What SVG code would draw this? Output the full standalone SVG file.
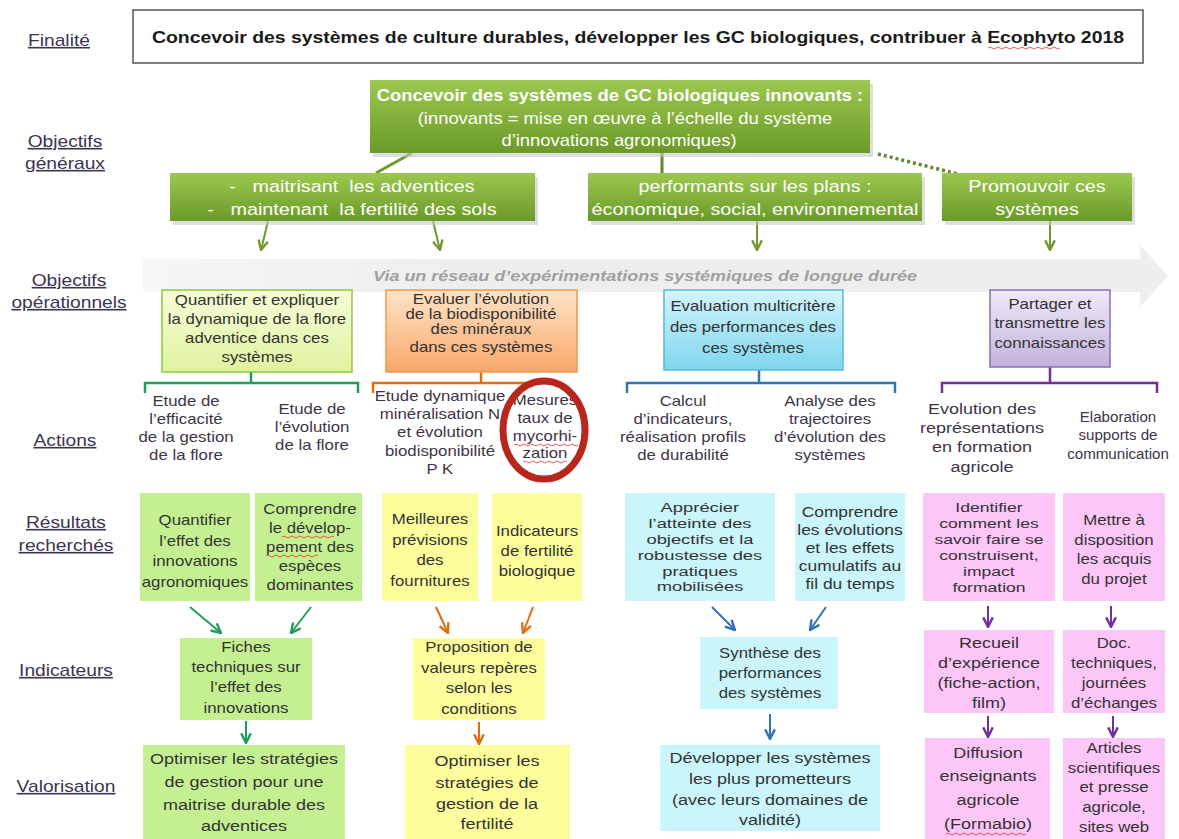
<svg xmlns="http://www.w3.org/2000/svg" width="1179" height="839" viewBox="0 0 1179 839">
<defs>
<style>
text{font-family:"Liberation Sans",Arial,sans-serif;text-anchor:middle;transform-box:fill-box;transform-origin:center;transform:scaleX(1.2);}
.n{transform:none;}
.s108{transform:scaleX(1.08);}
.s115{transform:scaleX(1.15);}
.s135{transform:scaleX(1.36);}
.s132{transform:scaleX(1.3);}
.lbl{font-size:16px;fill:#3b3450;text-decoration:underline;}
.w{fill:#ffffff;font-size:16px;}
.d{fill:#333333;font-size:14px;}
.a{fill:#3e3448;font-size:14px;}
.r{fill:#333333;font-size:14px;}
.sh{fill:#c8c8c8;opacity:0.6;}
.wv{fill:none;stroke:#e03030;stroke-width:0.8;}
</style>
<linearGradient id="gG" x1="0" y1="0" x2="0" y2="1"><stop offset="0" stop-color="#9cc84f"/><stop offset="1" stop-color="#6b9a28"/></linearGradient>
<linearGradient id="gO1" x1="0" y1="0" x2="0" y2="1"><stop offset="0" stop-color="#f6fcd6"/><stop offset="1" stop-color="#dff3a0"/></linearGradient>
<linearGradient id="gO2" x1="0" y1="0" x2="0" y2="1"><stop offset="0" stop-color="#fde4c8"/><stop offset="1" stop-color="#f9a66a"/></linearGradient>
<linearGradient id="gO3" x1="0" y1="0" x2="0" y2="1"><stop offset="0" stop-color="#d4f4fc"/><stop offset="1" stop-color="#7ed6ee"/></linearGradient>
<linearGradient id="gO4" x1="0" y1="0" x2="0" y2="1"><stop offset="0" stop-color="#efe9f7"/><stop offset="1" stop-color="#c2b2de"/></linearGradient>
<linearGradient id="gBand" x1="0" y1="0" x2="1" y2="0"><stop offset="0" stop-color="#f6f6f6"/><stop offset="0.3" stop-color="#eeeeee"/><stop offset="1" stop-color="#eeeeee"/></linearGradient>
<marker id="mDG" viewBox="0 0 10 10" refX="9" refY="5" markerWidth="12" markerHeight="12" orient="auto" markerUnits="userSpaceOnUse"><path d="M1,1 L9,5 L1,9" fill="none" stroke="#6f9a2e" stroke-width="2"/></marker>
<marker id="mG" viewBox="0 0 10 10" refX="9" refY="5" markerWidth="12" markerHeight="12" orient="auto" markerUnits="userSpaceOnUse"><path d="M1,1 L9,5 L1,9" fill="none" stroke="#1f9e5a" stroke-width="2"/></marker>
<marker id="mO" viewBox="0 0 10 10" refX="9" refY="5" markerWidth="12" markerHeight="12" orient="auto" markerUnits="userSpaceOnUse"><path d="M1,1 L9,5 L1,9" fill="none" stroke="#e46c0a" stroke-width="2"/></marker>
<marker id="mB" viewBox="0 0 10 10" refX="9" refY="5" markerWidth="12" markerHeight="12" orient="auto" markerUnits="userSpaceOnUse"><path d="M1,1 L9,5 L1,9" fill="none" stroke="#2e75b6" stroke-width="2"/></marker>
<marker id="mP" viewBox="0 0 10 10" refX="9" refY="5" markerWidth="12" markerHeight="12" orient="auto" markerUnits="userSpaceOnUse"><path d="M1,1 L9,5 L1,9" fill="none" stroke="#7030a0" stroke-width="2"/></marker>
</defs>
<rect width="1179" height="839" fill="#ffffff"/>

<g id="labels">
<text class="lbl" x="59" y="46">Finalité</text>
<text class="lbl" x="65" y="147">Objectifs</text>
<text class="lbl" x="65" y="169">généraux</text>
<text class="lbl" x="69" y="286">Objectifs</text>
<text class="lbl" x="69" y="308">opérationnels</text>
<text class="lbl" x="65" y="446">Actions</text>
<text class="lbl" x="66" y="528">Résultats</text>
<text class="lbl" x="66" y="551">recherchés</text>
<text class="lbl" x="66" y="676">Indicateurs</text>
<text class="lbl" x="66" y="792">Valorisation</text>
</g>

<g id="finalite">
<rect x="133" y="10" width="1010" height="53" fill="#ffffff" stroke="#555555" stroke-width="1.5"/>
<text class="n" x="638" y="43" style="font-size:16px;font-weight:bold;fill:#1a1a1a" textLength="972" lengthAdjust="spacingAndGlyphs">Concevoir des systèmes de culture durables, développer les GC biologiques, contribuer à Ecophyto 2018</text>
<path class="wv" d="M988,48 q2,-2 4,0 t4,0 t4,0 t4,0 t4,0 t4,0 t4,0 t4,0 t4,0 t4,0 t4,0 t4,0 t4,0 t4,0 t4,0 t4,0 t4,0 t4,0"/>
</g>

<g id="band">
<path d="M143,259 L1140,259 L1140,245 L1168,276 L1140,307 L1140,292 L143,292 Z" fill="url(#gBand)"/>
<text x="645" y="281" style="font-size:15px;font-style:italic;font-weight:bold;fill:#a0a0a0">Via un réseau d’expérimentations systémiques de longue durée</text>
</g>

<g id="connectors">
<line x1="412" y1="153" x2="376" y2="173" stroke="#6f9a2e" stroke-width="3"/>
<line x1="662" y1="153" x2="662" y2="173" stroke="#5f8a26" stroke-width="3"/>
<line x1="878" y1="154" x2="958" y2="174" stroke="#5f8a26" stroke-width="3.5" stroke-dasharray="3,3"/>
<line x1="268" y1="221" x2="261" y2="250" stroke="#6f9a2e" stroke-width="2" marker-end="url(#mDG)"/>
<line x1="433" y1="221" x2="440" y2="250" stroke="#6f9a2e" stroke-width="2" marker-end="url(#mDG)"/>
<line x1="757" y1="221" x2="757" y2="250" stroke="#6f9a2e" stroke-width="2" marker-end="url(#mDG)"/>
<line x1="1050" y1="221" x2="1050" y2="250" stroke="#6f9a2e" stroke-width="2" marker-end="url(#mDG)"/>
<path d="M145,393 L145,383 L358,383 L358,393 M251,372 L251,383" fill="none" stroke="#1f9e5a" stroke-width="2.5"/>
<path d="M373,393 L373,383 L540,383 M481,372 L481,383" fill="none" stroke="#e46c0a" stroke-width="2.5"/>
<path d="M627,393 L627,383 L895,383 L895,393 M759,370 L759,383" fill="none" stroke="#2e75b6" stroke-width="2.5"/>
<path d="M942,393 L942,383 L1157,383 L1157,393 M1050,367 L1050,383" fill="none" stroke="#7030a0" stroke-width="2.5"/>
<line x1="190" y1="607" x2="221" y2="633" stroke="#1f9e5a" stroke-width="2" marker-end="url(#mG)"/>
<line x1="311" y1="607" x2="291" y2="633" stroke="#1f9e5a" stroke-width="2" marker-end="url(#mG)"/>
<line x1="436" y1="607" x2="448" y2="633" stroke="#e46c0a" stroke-width="2" marker-end="url(#mO)"/>
<line x1="533" y1="607" x2="523" y2="633" stroke="#e46c0a" stroke-width="2" marker-end="url(#mO)"/>
<line x1="712" y1="607" x2="735" y2="630" stroke="#2e75b6" stroke-width="2" marker-end="url(#mB)"/>
<line x1="826" y1="607" x2="810" y2="630" stroke="#2e75b6" stroke-width="2" marker-end="url(#mB)"/>
<line x1="988" y1="606" x2="988" y2="627" stroke="#7030a0" stroke-width="2" marker-end="url(#mP)"/>
<line x1="1111" y1="606" x2="1111" y2="627" stroke="#7030a0" stroke-width="2" marker-end="url(#mP)"/>
<line x1="246" y1="721" x2="246" y2="743" stroke="#1f9e5a" stroke-width="2" marker-end="url(#mG)"/>
<line x1="479" y1="722" x2="479" y2="744" stroke="#e46c0a" stroke-width="2" marker-end="url(#mO)"/>
<line x1="770" y1="714" x2="770" y2="739" stroke="#2e75b6" stroke-width="2" marker-end="url(#mB)"/>
<line x1="988" y1="716" x2="988" y2="737" stroke="#7030a0" stroke-width="2" marker-end="url(#mP)"/>
<line x1="1113" y1="716" x2="1113" y2="737" stroke="#7030a0" stroke-width="2" marker-end="url(#mP)"/>
</g>

<g id="obj-main">
<rect class="sh" x="373" y="84" width="500" height="73"/>
<rect x="370" y="80" width="500" height="73" fill="url(#gG)"/>
<text class="w s115" x="620" y="101" style="font-weight:bold">Concevoir des systèmes de GC biologiques innovants :</text>
<text class="w s115" x="625" y="124">(innovants = mise en œuvre à l’échelle du système</text>
<text class="w s115" x="619" y="146">d’innovations agronomiques)</text>
</g>

<g id="obj-a">
<rect class="sh" x="173" y="177" width="365" height="48"/>
<rect x="170" y="173" width="365" height="48" fill="url(#gG)"/>
<text class="w" x="352" y="192" style="font-size:16.5px" xml:space="preserve">-   maitrisant  les adventices</text>
<text class="w" x="352" y="215" style="font-size:16.5px" xml:space="preserve">-   maintenant  la fertilité des sols</text>
</g>
<g id="obj-b">
<rect class="sh" x="591" y="177" width="334" height="48"/>
<rect x="588" y="173" width="334" height="48" fill="url(#gG)"/>
<text class="w" x="755" y="192" style="font-size:16.5px">performants sur les plans :</text>
<text class="w" x="755" y="215" style="font-size:16.5px">économique, social, environnemental</text>
</g>
<g id="obj-c">
<rect class="sh" x="945" y="177" width="190" height="48"/>
<rect x="942" y="173" width="190" height="48" fill="url(#gG)"/>
<text class="w" x="1037" y="192" style="font-size:16.5px">Promouvoir ces</text>
<text class="w" x="1037" y="215" style="font-size:16.5px">systèmes</text>
</g>

<g id="op1">
<rect x="162" y="290" width="190" height="82" fill="url(#gO1)" stroke="#8cc63f" stroke-width="1.5"/>
<text class="d" x="257" y="305">Quantifier et expliquer</text>
<text class="d" x="257" y="324">la dynamique de la flore</text>
<text class="d" x="257" y="343">adventice dans ces</text>
<text class="d" x="257" y="362">systèmes</text>
</g>
<g id="op2">
<rect x="386" y="290" width="191" height="82" fill="url(#gO2)" stroke="#f79646" stroke-width="1.5"/>
<text class="d" x="481" y="304">Evaluer l’évolution</text>
<text class="d" x="481" y="319">de la biodisponibilité</text>
<text class="d" x="481" y="334">des minéraux</text>
<text class="d" x="481" y="352">dans ces systèmes</text>
</g>
<g id="op3">
<rect x="664" y="290" width="179" height="80" fill="url(#gO3)" stroke="#5bb8d4" stroke-width="1.5"/>
<text class="d" x="753" y="311">Evaluation multicritère</text>
<text class="d" x="753" y="332">des performances des</text>
<text class="d" x="753" y="353">ces systèmes</text>
</g>
<g id="op4">
<rect x="990" y="290" width="120" height="77" fill="url(#gO4)" stroke="#8a70b0" stroke-width="1.5"/>
<text class="d" x="1050" y="309">Partager et</text>
<text class="d" x="1050" y="328">transmettre les</text>
<text class="d" x="1050" y="348">connaissances</text>
</g>

<g id="act1">
<text class="a" x="186" y="406">Etude de</text>
<text class="a" x="186" y="424">l’efficacité</text>
<text class="a" x="186" y="442">de la gestion</text>
<text class="a" x="186" y="460">de la flore</text>
</g>
<g id="act2">
<text class="a" x="312" y="414">Etude de</text>
<text class="a" x="312" y="432">l’évolution</text>
<text class="a" x="312" y="450">de la flore</text>
</g>
<g id="act3">
<text class="a" x="440" y="401">Etude dynamique</text>
<text class="a" x="440" y="419">minéralisation N</text>
<text class="a" x="440" y="437">et évolution</text>
<text class="a" x="440" y="456">biodisponibilité</text>
<text class="a" x="440" y="474">P K</text>
</g>
<g id="act4">
<text class="a" x="545" y="405">Mesures</text>
<text class="a" x="545" y="423">taux de</text>
<text class="a" x="545" y="441">mycorhi-</text>
<text class="a" x="545" y="458">zation</text>
<path class="wv" d="M514,445 q2,-2 4,0 t4,0 t4,0 t4,0 t4,0 t4,0 t4,0 t4,0 t4,0 t4,0 t4,0 t4,0 t4,0 t4,0 t4,0 t4,0 M523,462 q2,-2 4,0 t4,0 t4,0 t4,0 t4,0 t4,0 t4,0 t4,0 t4,0 t4,0 t4,0"/>
<ellipse cx="544" cy="430" rx="41" ry="49" fill="none" stroke="#b8271c" stroke-width="7"/>
</g>
<g id="act5">
<text class="a" x="683" y="406">Calcul</text>
<text class="a" x="683" y="424">d’indicateurs,</text>
<text class="a" x="683" y="442">réalisation profils</text>
<text class="a" x="683" y="460">de durabilité</text>
</g>
<g id="act6">
<text class="a" x="830" y="406">Analyse des</text>
<text class="a" x="830" y="424">trajectoires</text>
<text class="a" x="830" y="442">d’évolution des</text>
<text class="a" x="830" y="460">systèmes</text>
</g>
<g id="act7">
<text class="a" x="982" y="414" style="font-size:15px">Evolution des</text>
<text class="a" x="982" y="433" style="font-size:15px">représentations</text>
<text class="a" x="982" y="452" style="font-size:15px">en formation</text>
<text class="a" x="982" y="472" style="font-size:15px">agricole</text>
</g>
<g id="act8">
<text class="a s108" x="1118" y="422">Elaboration</text>
<text class="a s108" x="1118" y="440">supports de</text>
<text class="a s108" x="1118" y="459">communication</text>
</g>

<g id="res1">
<rect x="140" y="493" width="110" height="108" fill="#c5f092"/>
<text class="r" x="195" y="525">Quantifier</text>
<text class="r" x="195" y="546">l’effet des</text>
<text class="r" x="195" y="566">innovations</text>
<text class="r" x="195" y="587">agronomiques</text>
</g>
<g id="res2">
<rect x="255" y="493" width="107" height="108" fill="#c5f092"/>
<text class="r" x="310" y="514">Comprendre</text>
<text class="r" x="310" y="533">le dévelop-</text>
<text class="r" x="310" y="552">pement des</text>
<text class="r" x="310" y="571">espèces</text>
<text class="r" x="310" y="590">dominantes</text>
<path class="wv" d="M282,537 q2,-2 4,0 t4,0 t4,0 t4,0 t4,0 t4,0 t4,0 t4,0 t4,0 t4,0 t4,0 t4,0 t4,0 M266,556 q2,-2 4,0 t4,0 t4,0 t4,0 t4,0 t4,0 t4,0 t4,0 t4,0 t4,0 t4,0 t4,0 t4,0"/>
</g>
<g id="res3">
<rect x="382" y="493" width="96" height="108" fill="#fdfd9c"/>
<text class="r" x="430" y="524">Meilleures</text>
<text class="r" x="430" y="545">prévisions</text>
<text class="r" x="430" y="565">des</text>
<text class="r" x="430" y="586">fournitures</text>
</g>
<g id="res4">
<rect x="492" y="493" width="90" height="108" fill="#fdfd9c"/>
<text class="r" x="537" y="536">Indicateurs</text>
<text class="r" x="537" y="556">de fertilité</text>
<text class="r" x="537" y="576">biologique</text>
</g>
<g id="res5">
<rect x="625" y="493" width="150" height="108" fill="#c9f5fb"/>
<text class="r s135" x="700" y="512" style="font-size:13.5px">Apprécier</text>
<text class="r s135" x="700" y="528" style="font-size:13.5px">l’atteinte des</text>
<text class="r s135" x="700" y="544" style="font-size:13.5px">objectifs et la</text>
<text class="r s135" x="700" y="560" style="font-size:13.5px">robustesse des</text>
<text class="r s135" x="700" y="576" style="font-size:13.5px">pratiques</text>
<text class="r s135" x="700" y="591" style="font-size:13.5px">mobilisées</text>
</g>
<g id="res6">
<rect x="795" y="493" width="110" height="108" fill="#c9f5fb"/>
<text class="r" x="850" y="517" style="font-size:14.5px">Comprendre</text>
<text class="r" x="850" y="535" style="font-size:14.5px">les évolutions</text>
<text class="r" x="850" y="553" style="font-size:14.5px">et les effets</text>
<text class="r" x="850" y="571" style="font-size:14.5px">cumulatifs au</text>
<text class="r" x="850" y="589" style="font-size:14.5px">fil du temps</text>
</g>
<g id="res7">
<rect x="923" y="493" width="132" height="108" fill="#fdc6f8"/>
<text class="r s132" x="989" y="512" style="font-size:13.5px">Identifier</text>
<text class="r s132" x="989" y="528" style="font-size:13.5px">comment les</text>
<text class="r s132" x="989" y="544" style="font-size:13.5px">savoir faire se</text>
<text class="r s132" x="989" y="560" style="font-size:13.5px">construisent,</text>
<text class="r s132" x="989" y="576" style="font-size:13.5px">impact</text>
<text class="r s132" x="989" y="592" style="font-size:13.5px">formation</text>
</g>
<g id="res8">
<rect x="1063" y="493" width="102" height="108" fill="#fdc6f8"/>
<text class="r" x="1114" y="525">Mettre à</text>
<text class="r" x="1114" y="545">disposition</text>
<text class="r" x="1114" y="564">les acquis</text>
<text class="r" x="1114" y="584">du projet</text>
</g>

<g id="ind1">
<rect x="180" y="638" width="132" height="82" fill="#c5f092"/>
<text class="r" x="246" y="652">Fiches</text>
<text class="r" x="246" y="672">techniques sur</text>
<text class="r" x="246" y="692">l’effet des</text>
<text class="r" x="246" y="713">innovations</text>
</g>
<g id="ind2">
<rect x="413" y="638" width="132" height="82" fill="#fdfd9c"/>
<text class="r" x="479" y="652">Proposition de</text>
<text class="r" x="479" y="673">valeurs repères</text>
<text class="r" x="479" y="693">selon les</text>
<text class="r" x="479" y="714">conditions</text>
</g>
<g id="ind3">
<rect x="700" y="637" width="138" height="72" fill="#c9f5fb"/>
<text class="r" x="770" y="658">Synthèse des</text>
<text class="r" x="770" y="678">performances</text>
<text class="r" x="770" y="698">des systèmes</text>
</g>
<g id="ind4">
<rect x="924" y="630" width="130" height="83" fill="#fdc6f8"/>
<text class="r" x="989" y="648" style="font-size:15px">Recueil</text>
<text class="r" x="989" y="668" style="font-size:15px">d’expérience</text>
<text class="r" x="989" y="688" style="font-size:15px">(fiche-action,</text>
<text class="r" x="989" y="708" style="font-size:15px">film)</text>
</g>
<g id="ind5">
<rect x="1063" y="630" width="102" height="83" fill="#fdc6f8"/>
<text class="r" x="1114" y="648">Doc.</text>
<text class="r" x="1114" y="668">techniques,</text>
<text class="r" x="1114" y="688">journées</text>
<text class="r" x="1114" y="708">d’échanges</text>
</g>

<g id="val1">
<rect x="143" y="745" width="202" height="94" fill="#c5f092"/>
<text class="r" x="244" y="764" style="font-size:15px">Optimiser les stratégies</text>
<text class="r" x="244" y="787" style="font-size:15px">de gestion pour une</text>
<text class="r" x="244" y="810" style="font-size:15px">maitrise durable des</text>
<text class="r" x="244" y="831" style="font-size:15px">adventices</text>
</g>
<g id="val2">
<rect x="405" y="745" width="165" height="94" fill="#fdfd9c"/>
<text class="r" x="487" y="766" style="font-size:15px">Optimiser les</text>
<text class="r" x="487" y="788" style="font-size:15px">stratégies de</text>
<text class="r" x="487" y="809" style="font-size:15px">gestion de la</text>
<text class="r" x="487" y="829" style="font-size:15px">fertilité</text>
</g>
<g id="val3">
<rect x="660" y="745" width="220" height="86" fill="#c9f5fb"/>
<text class="r" x="770" y="763" style="font-size:15px">Développer les systèmes</text>
<text class="r" x="770" y="784" style="font-size:15px">les plus prometteurs</text>
<text class="r" x="770" y="805" style="font-size:15px">(avec leurs domaines de</text>
<text class="r" x="770" y="825" style="font-size:15px">validité)</text>
</g>
<g id="val4">
<rect x="925" y="738" width="125" height="101" fill="#fdc6f8"/>
<text class="r" x="988" y="758" style="font-size:15px">Diffusion</text>
<text class="r" x="988" y="781" style="font-size:15px">enseignants</text>
<text class="r" x="988" y="805" style="font-size:15px">agricole</text>
<text class="r" x="988" y="829" style="font-size:15px">(Formabio)</text>
<path class="wv" d="M946,834 q2,-2 4,0 t4,0 t4,0 t4,0 t4,0 t4,0 t4,0 t4,0 t4,0 t4,0 t4,0 t4,0 t4,0 t4,0 t4,0 t4,0 t4,0 t4,0 t4,0 t4,0"/>
</g>
<g id="val5">
<rect x="1063" y="738" width="102" height="101" fill="#fdc6f8"/>
<text class="r" x="1114" y="753">Articles</text>
<text class="r" x="1114" y="773">scientifiques</text>
<text class="r" x="1114" y="792">et presse</text>
<text class="r" x="1114" y="812">agricole,</text>
<text class="r" x="1114" y="832">sites web</text>
</g>
</svg>
